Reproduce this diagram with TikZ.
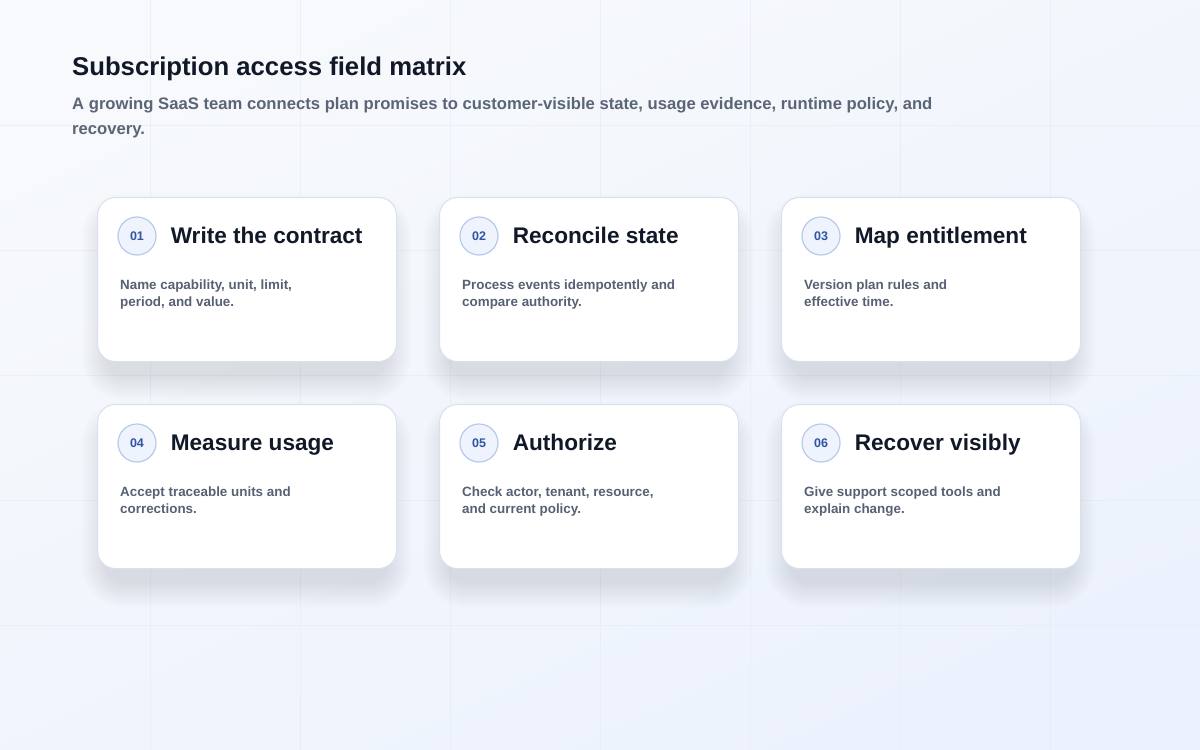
\documentclass[tikz,border=0pt]{standalone}
\usepackage{fontspec}
\setmainfont{Liberation Sans}
\usetikzlibrary{positioning}
\definecolor{bgtop}{HTML}{F7F9FC}
\definecolor{bgbot}{HTML}{ECF2FD}
\definecolor{gridc}{HTML}{E6EAF2}
\definecolor{ink}{HTML}{111827}
\definecolor{slate}{HTML}{5B6576}
\definecolor{bodyc}{HTML}{576173}
\definecolor{cardline}{HTML}{D9E1EE}
\definecolor{shadowc}{HTML}{7886A8}
\definecolor{numfill}{HTML}{EEF3FD}
\definecolor{numline}{HTML}{B8CAEA}
\definecolor{numtext}{HTML}{2E54A3}
\tikzset{
  card/.style={draw=cardline, line width=1pt, fill=white, rounded corners=18pt,
    minimum width=299pt, minimum height=164pt, anchor=north west, inner sep=0pt},
  numdot/.style={circle, draw=numline, line width=1.2pt, fill=numfill, minimum size=38pt,
    inner sep=0pt, text=numtext, font=\fontsize{12.5pt}{14pt}\selectfont\bfseries},
  cardtitle/.style={inner sep=0pt, text height=16pt, text depth=0pt, text=ink,
    font=\fontsize{22.6pt}{26pt}\selectfont\bfseries},
  cardbody/.style={inner sep=0pt, anchor=north west, align=left, text=bodyc,
    font=\fontsize{13.4pt}{17pt}\selectfont\bfseries},
}
\begin{document}
\begin{tikzpicture}[x=1pt,y=-1pt]
	\useasboundingbox (0,0) rectangle (1200,750);
	\shade[top color=bgtop, bottom color=bgbot, shading angle=25] (0,0) rectangle (1200,750);
	\foreach \x in {150,300,...,1050} \draw[gridc, opacity=0.6] (\x,0)--(\x,750);
	\foreach \y in {125,250,...,625} \draw[gridc, opacity=0.6] (0,\y)--(1200,\y);
	\node[anchor=base west, inner sep=0pt, text=ink, font=\fontsize{25.7pt}{30pt}\selectfont\bfseries] (title) at (72,75) {Subscription access field matrix};
	\node[anchor=north west, inner sep=0pt, align=left, text=slate, font=\fontsize{16.65pt}{25pt}\selectfont\bfseries] (subtitle) at (72,97)
		{A growing SaaS team connects plan promises to customer-visible state, usage evidence, runtime policy, and\\recovery.};
	% soft shadows under the cards
	\foreach \cx/\cy in {97/197,439/197,781/197,97/404,439/404,781/404}
		\foreach \s in {1,...,26}
			\fill[shadowc, opacity=0.008, rounded corners={18pt+\s pt}] (\cx+10-\s,\cy+22-\s) rectangle (\cx+289+\s,\cy+178+\s);
	\foreach \i/\cx/\cy/\ttl/\txt in {
		1/97/197/Write the contract/{Name capability, unit, limit,\\period, and value.},
		2/439/197/Reconcile state/{Process events idempotently and\\compare authority.},
		3/781/197/Map entitlement/{Version plan rules and\\effective time.},
		4/97/404/Measure usage/{Accept traceable units and\\corrections.},
		5/439/404/Authorize/{Check actor, tenant, resource,\\and current policy.},
		6/781/404/Recover visibly/{Give support scoped tools and\\explain change.}}
	{
		\node[card] (card\i) at (\cx,\cy) {};
		\node[numdot] (num\i) at ([xshift=40pt,yshift=-39pt]card\i.north west) {0\i};
		\node[cardtitle, right=14pt of num\i, yshift=1pt] (head\i) {\ttl};
		\node[cardbody] (body\i) at ([xshift=23pt,yshift=-83pt]card\i.north west) {\txt};
	}
\end{tikzpicture}
\end{document}
